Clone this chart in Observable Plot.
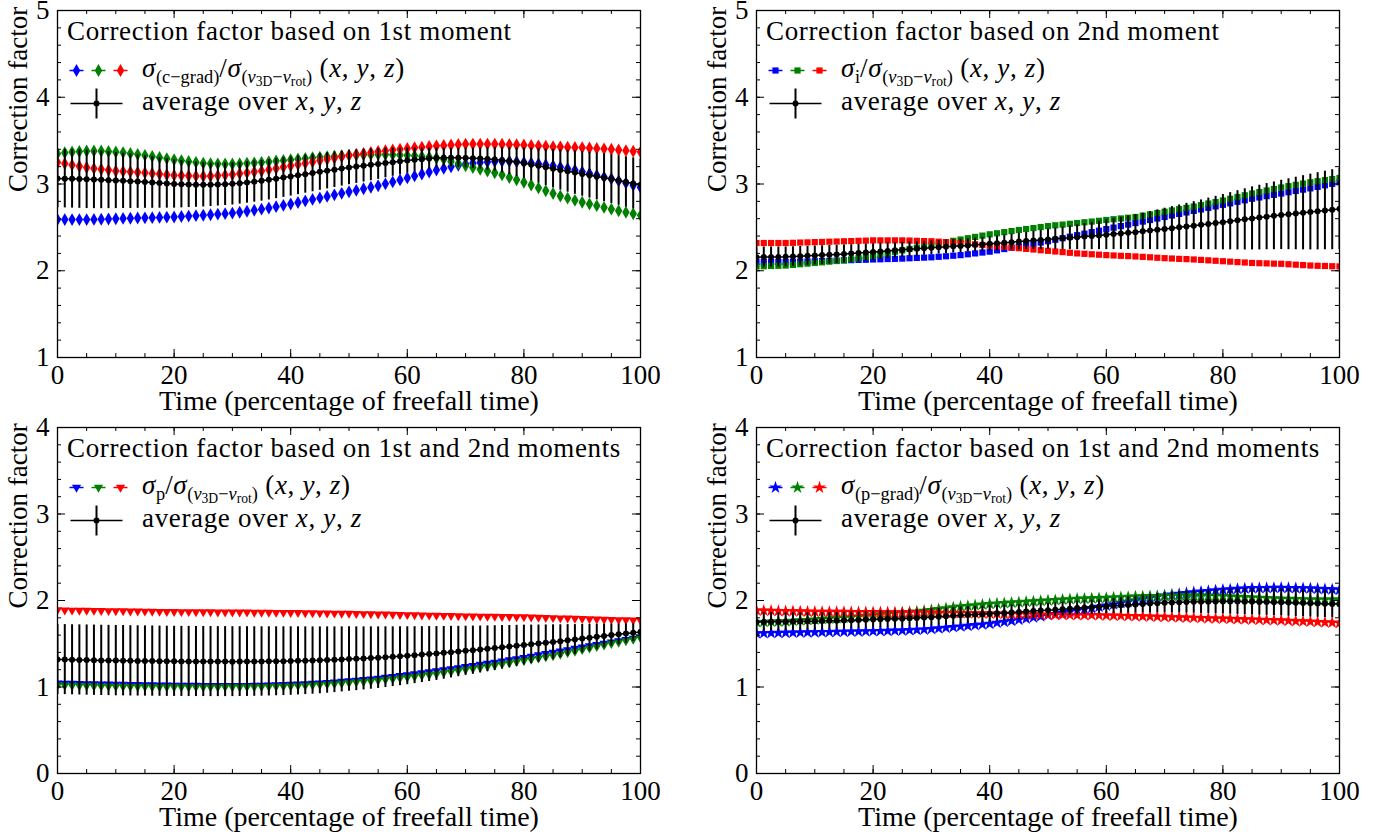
<!DOCTYPE html>
<html><head><meta charset="utf-8">
<script src="https://cdn.jsdelivr.net/npm/d3@7"></script>
<script src="https://cdn.jsdelivr.net/npm/@observablehq/plot@0.6"></script>
<style>
body{margin:0;background:#fff;}
#root{position:relative;width:1384px;height:840px;overflow:hidden;background:#fff;font-family:'Liberation Serif',serif;}
.panel{position:absolute;}
.panel svg{position:absolute;left:0;top:0;}
.ov{position:absolute;z-index:2;}
.leg{position:absolute;white-space:nowrap;font-size:27px;line-height:22px;color:#000;letter-spacing:0.65px;font-family:'Liberation Serif',serif;}
.leg i{font-style:italic;}
.leg sub{font-size:0.68em;vertical-align:-0.32em;line-height:0;letter-spacing:0;}
.leg sub sub{font-size:0.74em;vertical-align:-0.25em;}
</style></head><body><div id="root"></div>
<script>
const time = [0,1.25,2.5,3.75,5,6.25,7.5,8.75,10,11.25,12.5,13.75,15,16.25,17.5,18.75,20,21.25,22.5,23.75,25,26.25,27.5,28.75,30,31.25,32.5,33.75,35,36.25,37.5,38.75,40,41.25,42.5,43.75,45,46.25,47.5,48.75,50,51.25,52.5,53.75,55,56.25,57.5,58.75,60,61.25,62.5,63.75,65,66.25,67.5,68.75,70,71.25,72.5,73.75,75,76.25,77.5,78.75,80,81.25,82.5,83.75,85,86.25,87.5,88.75,90,91.25,92.5,93.75,95,96.25,97.5,98.75,100];

// Panel 1: sigma_(c-grad) / sigma_(v3D - vrot)
const cGradX = [2.590,2.590,2.590,2.590,2.590,2.592,2.594,2.597,2.600,2.603,2.605,2.608,2.610,2.612,2.615,2.618,2.620,2.625,2.630,2.635,2.640,2.646,2.652,2.658,2.665,2.675,2.686,2.698,2.710,2.724,2.739,2.754,2.770,2.787,2.805,2.822,2.840,2.857,2.875,2.892,2.910,2.927,2.945,2.962,2.980,3.002,3.024,3.047,3.070,3.093,3.115,3.138,3.160,3.180,3.198,3.215,3.230,3.240,3.248,3.255,3.260,3.262,3.262,3.257,3.250,3.242,3.232,3.222,3.210,3.195,3.178,3.160,3.140,3.120,3.100,3.080,3.060,3.036,3.011,2.986,2.960];
const cGradY = [3.350,3.360,3.370,3.375,3.380,3.380,3.380,3.375,3.370,3.362,3.353,3.342,3.330,3.318,3.305,3.293,3.280,3.270,3.260,3.250,3.240,3.235,3.232,3.230,3.230,3.234,3.239,3.244,3.250,3.257,3.265,3.272,3.280,3.288,3.295,3.303,3.310,3.315,3.320,3.325,3.330,3.333,3.336,3.338,3.340,3.340,3.338,3.335,3.330,3.325,3.318,3.310,3.300,3.285,3.260,3.235,3.210,3.190,3.170,3.150,3.130,3.105,3.075,3.048,3.020,2.988,2.955,2.922,2.890,2.862,2.837,2.812,2.790,2.770,2.750,2.730,2.710,2.692,2.674,2.657,2.640];
const cGradZ = [3.250,3.235,3.220,3.205,3.190,3.180,3.170,3.160,3.150,3.145,3.140,3.135,3.130,3.122,3.115,3.107,3.100,3.097,3.094,3.092,3.090,3.092,3.097,3.103,3.110,3.120,3.130,3.140,3.150,3.165,3.180,3.195,3.210,3.225,3.240,3.255,3.270,3.285,3.300,3.315,3.330,3.342,3.353,3.364,3.375,3.384,3.393,3.401,3.410,3.418,3.425,3.433,3.440,3.445,3.450,3.455,3.460,3.460,3.460,3.460,3.460,3.458,3.455,3.452,3.450,3.445,3.440,3.435,3.430,3.428,3.425,3.422,3.420,3.415,3.410,3.405,3.400,3.392,3.385,3.377,3.370];

// Panel 2: sigma_i / sigma_(v3D - vrot)
const sigIX = [2.100,2.100,2.100,2.100,2.100,2.102,2.105,2.107,2.110,2.112,2.115,2.117,2.120,2.122,2.125,2.127,2.130,2.132,2.135,2.137,2.140,2.144,2.148,2.151,2.155,2.161,2.167,2.173,2.180,2.190,2.200,2.210,2.220,2.235,2.250,2.265,2.280,2.295,2.310,2.325,2.340,2.357,2.375,2.392,2.410,2.427,2.445,2.462,2.480,2.497,2.515,2.532,2.550,2.567,2.585,2.602,2.620,2.637,2.655,2.672,2.690,2.707,2.725,2.742,2.760,2.777,2.795,2.812,2.830,2.845,2.860,2.875,2.890,2.905,2.920,2.935,2.950,2.967,2.985,3.002,3.020];
const sigIY = [2.050,2.052,2.055,2.057,2.060,2.067,2.075,2.082,2.090,2.097,2.105,2.112,2.120,2.132,2.145,2.157,2.170,2.186,2.202,2.219,2.235,2.251,2.267,2.284,2.300,2.315,2.330,2.345,2.360,2.375,2.390,2.405,2.420,2.432,2.445,2.457,2.470,2.481,2.492,2.504,2.515,2.524,2.532,2.541,2.550,2.559,2.567,2.576,2.585,2.594,2.603,2.611,2.620,2.635,2.650,2.665,2.680,2.695,2.710,2.725,2.740,2.757,2.775,2.792,2.810,2.830,2.850,2.870,2.890,2.907,2.925,2.942,2.960,2.975,2.990,3.005,3.020,3.032,3.045,3.057,3.070];
const sigIZ = [2.320,2.320,2.320,2.320,2.320,2.322,2.325,2.327,2.330,2.332,2.335,2.337,2.340,2.342,2.345,2.347,2.350,2.350,2.350,2.350,2.350,2.348,2.345,2.342,2.340,2.335,2.330,2.325,2.320,2.312,2.305,2.297,2.290,2.282,2.275,2.267,2.260,2.252,2.245,2.237,2.230,2.222,2.215,2.207,2.200,2.195,2.190,2.185,2.180,2.176,2.172,2.169,2.165,2.160,2.155,2.150,2.145,2.141,2.137,2.134,2.130,2.125,2.120,2.115,2.110,2.105,2.100,2.095,2.090,2.087,2.085,2.082,2.080,2.075,2.070,2.065,2.060,2.057,2.055,2.052,2.050];

// Panel 3: sigma_p / sigma_(v3D - vrot)
const sigPX = [1.045,1.043,1.041,1.039,1.037,1.035,1.033,1.032,1.030,1.029,1.027,1.026,1.025,1.024,1.022,1.021,1.020,1.019,1.018,1.018,1.017,1.016,1.016,1.015,1.015,1.016,1.017,1.019,1.020,1.022,1.025,1.027,1.030,1.034,1.037,1.041,1.045,1.051,1.057,1.064,1.070,1.077,1.085,1.092,1.100,1.110,1.120,1.130,1.140,1.151,1.162,1.174,1.185,1.197,1.210,1.222,1.235,1.247,1.260,1.272,1.285,1.299,1.312,1.326,1.340,1.355,1.370,1.385,1.400,1.415,1.430,1.445,1.460,1.475,1.490,1.505,1.520,1.534,1.547,1.561,1.575];
const sigPY = [1.020,1.018,1.016,1.014,1.012,1.010,1.008,1.007,1.005,1.004,1.003,1.003,1.002,1.001,1.001,1.000,1.000,1.000,0.999,0.999,0.999,0.999,0.999,1.000,1.000,1.001,1.001,1.002,1.003,1.005,1.006,1.008,1.010,1.014,1.017,1.021,1.025,1.031,1.036,1.042,1.048,1.055,1.061,1.068,1.075,1.084,1.092,1.101,1.110,1.120,1.130,1.140,1.150,1.162,1.175,1.187,1.200,1.212,1.225,1.237,1.250,1.264,1.277,1.291,1.305,1.319,1.332,1.346,1.360,1.377,1.395,1.412,1.430,1.447,1.465,1.482,1.500,1.516,1.532,1.549,1.565];
const sigPZ = [1.890,1.889,1.887,1.886,1.885,1.884,1.882,1.881,1.880,1.879,1.877,1.876,1.875,1.874,1.872,1.871,1.870,1.869,1.869,1.868,1.867,1.867,1.866,1.866,1.865,1.864,1.864,1.863,1.862,1.862,1.861,1.861,1.860,1.859,1.857,1.856,1.855,1.854,1.852,1.851,1.850,1.848,1.846,1.844,1.842,1.841,1.839,1.837,1.835,1.833,1.831,1.829,1.827,1.826,1.824,1.822,1.820,1.819,1.817,1.816,1.815,1.814,1.812,1.811,1.810,1.807,1.805,1.802,1.800,1.797,1.795,1.792,1.790,1.787,1.785,1.782,1.780,1.777,1.775,1.772,1.770];

// Panel 4: sigma_(p-grad) / sigma_(v3D - vrot)
const pGradX = [1.620,1.622,1.624,1.625,1.627,1.629,1.630,1.632,1.633,1.635,1.636,1.638,1.639,1.641,1.642,1.644,1.645,1.647,1.649,1.651,1.653,1.657,1.661,1.665,1.670,1.677,1.685,1.692,1.700,1.707,1.715,1.722,1.730,1.742,1.753,1.765,1.777,1.790,1.803,1.817,1.830,1.844,1.857,1.871,1.885,1.899,1.912,1.926,1.940,1.955,1.970,1.985,2.000,2.015,2.029,2.044,2.058,2.068,2.077,2.087,2.096,2.103,2.110,2.117,2.124,2.129,2.134,2.138,2.143,2.144,2.145,2.146,2.147,2.145,2.143,2.142,2.140,2.136,2.132,2.128,2.124];
const pGradY = [1.750,1.752,1.755,1.757,1.760,1.765,1.770,1.775,1.780,1.785,1.790,1.795,1.800,1.807,1.815,1.822,1.830,1.836,1.842,1.849,1.855,1.864,1.872,1.881,1.890,1.900,1.910,1.920,1.930,1.937,1.945,1.952,1.960,1.965,1.970,1.975,1.980,1.985,1.990,1.995,2.000,2.005,2.010,2.015,2.020,2.022,2.025,2.027,2.030,2.034,2.038,2.042,2.046,2.048,2.050,2.052,2.054,2.055,2.056,2.057,2.058,2.056,2.054,2.052,2.050,2.046,2.042,2.039,2.035,2.031,2.027,2.024,2.020,2.018,2.016,2.014,2.012,2.011,2.011,2.010,2.010];
const pGradZ = [1.885,1.883,1.881,1.879,1.877,1.876,1.874,1.872,1.870,1.869,1.869,1.868,1.868,1.867,1.866,1.866,1.865,1.864,1.864,1.863,1.863,1.862,1.861,1.861,1.860,1.859,1.857,1.856,1.855,1.854,1.852,1.851,1.850,1.848,1.846,1.844,1.842,1.841,1.839,1.837,1.835,1.834,1.833,1.832,1.831,1.831,1.830,1.829,1.827,1.825,1.823,1.821,1.819,1.817,1.815,1.812,1.810,1.807,1.805,1.802,1.800,1.797,1.795,1.792,1.790,1.787,1.785,1.782,1.780,1.777,1.775,1.772,1.770,1.766,1.762,1.759,1.755,1.751,1.747,1.744,1.740];

const xTicks = [0, 20, 40, 60, 80, 100];
const yTicksTop = [1, 2, 3, 4, 5];
const yTicksBottom = [0, 1, 2, 3, 4];
const colors = ["#0000ff", "#008000", "#ff0000"];
const xLabel = "Time (percentage of freefall time)";
const yLabel = "Correction factor";
const titles = [
  "Correction factor based on 1st moment",
  "Correction factor based on 2nd moment",
  "Correction factor based on 1st and 2nd moments",
  "Correction factor based on 1st and 2nd moments"
];
const denomHTML = '<i>σ</i><sub>(<i>v</i><sub>3D</sub>−<i>v</i><sub>rot</sub>)</sub>';
const xyzHTML = '(<i>x</i>, <i>y</i>, <i>z</i>)';
const ratioHTML = [
  '<i>σ</i><sub>(c−grad)</sub>/' + denomHTML + ' ' + xyzHTML,
  '<i>σ</i><sub>i</sub>/' + denomHTML + ' ' + xyzHTML,
  '<i>σ</i><sub>p</sub>/' + denomHTML + ' ' + xyzHTML,
  '<i>σ</i><sub>(p−grad)</sub>/' + denomHTML + ' ' + xyzHTML
];
const avgHTML = 'average over <i>x</i>, <i>y</i>, <i>z</i>';
const FONT = "'Liberation Serif', serif";

const hline = {draw(ctx, size) { const l = Math.sqrt(size / Math.PI); ctx.moveTo(-l, 0); ctx.lineTo(l, 0); }};
const vline = {draw(ctx, size) { const l = Math.sqrt(size / Math.PI); ctx.moveTo(0, -l); ctx.lineTo(0, l); }};

function makePanel(cfg) {
  const {left, top, width, mr, height, mb, yDomain, yTicks, series, symbol, r, rotate, title, ratio} = cfg;
  const mt = 10, ml = 57;
  const avg = time.map((t, i) => {
    const v = series.map(s => s[i]);
    const m = d3.mean(v);
    const sd = Math.sqrt(d3.mean(v, d => (d - m) ** 2));
    return {t, m, lo: m - sd, hi: m + sd};
  });
  const xMinor = d3.range(0, 101, 5);
  const yMinor = d3.range(Math.round((yDomain[1] - yDomain[0]) / 0.2) + 1).map(k => +(yDomain[0] + k * 0.2).toFixed(1));
  const [y0, y1] = yDomain;
  const marks = [];
  series.forEach((s, j) => {
    marks.push(Plot.dot(time.map((t, i) => ({t, v: s[i]})), {x: "t", y: "v", symbol, r, fill: colors[j], stroke: "none", rotate, clip: true}));
  });
  marks.push(
    Plot.ruleX(avg, {x: "t", y1: "lo", y2: "hi", stroke: "black", strokeWidth: 2, clip: true}),
    Plot.line(avg, {x: "t", y: "m", stroke: "black", strokeWidth: 1.5, clip: true}),
    Plot.dot(avg, {x: "t", y: "m", r: 3, fill: "black", stroke: "none", clip: true}),
    Plot.ruleX(xMinor, {x: d => d, y1: y0, y2: y0, insetTop: -4, stroke: "black"}),
    Plot.ruleX(xMinor, {x: d => d, y1: y1, y2: y1, insetBottom: -4, stroke: "black"}),
    Plot.ruleX(xTicks, {x: d => d, y1: y0, y2: y0, insetTop: -8, stroke: "black"}),
    Plot.ruleX(xTicks, {x: d => d, y1: y1, y2: y1, insetBottom: -8, stroke: "black"}),
    Plot.ruleY(yMinor, {y: d => d, x1: 0, x2: 0, insetRight: -4, stroke: "black"}),
    Plot.ruleY(yMinor, {y: d => d, x1: 100, x2: 100, insetLeft: -4, stroke: "black"}),
    Plot.ruleY(yTicks, {y: d => d, x1: 0, x2: 0, insetRight: -8, stroke: "black"}),
    Plot.ruleY(yTicks, {y: d => d, x1: 100, x2: 100, insetLeft: -8, stroke: "black"}),
    Plot.frame({stroke: "black", strokeWidth: 1.3}),
    Plot.axisX({ticks: xTicks, tickSize: 0, tickPadding: 7, label: null, tickFormat: d => String(d), fontSize: 27}),
    Plot.axisY({ticks: yTicks, tickSize: 0, tickPadding: 8, label: null, tickFormat: d => String(d), fontSize: 27}),
    Plot.text([xLabel], {text: d => d, frameAnchor: "bottom", dy: 52, fontSize: 28}),
    Plot.text([yLabel], {text: d => d, frameAnchor: "left", dx: -39, dy: 8, rotate: -90, fontSize: 27}),
    ...colors.map((c, j) => Plot.dot([0], {x: null, y: null, frameAnchor: "top-left", dx: 19 + 22 * j, dy: 60, symbol: hline, r: 7, stroke: c, strokeWidth: 1.5, fill: "none"})),
    ...colors.map((c, j) => Plot.dot([0], {x: null, y: null, frameAnchor: "top-left", dx: 19 + 22 * j, dy: 60, symbol, r, fill: c, stroke: "none", rotate})),
    Plot.dot([0], {x: null, y: null, frameAnchor: "top-left", dx: 39, dy: 93, symbol: hline, r: 26, stroke: "black", strokeWidth: 1.5, fill: "none"}),
    Plot.dot([0], {x: null, y: null, frameAnchor: "top-left", dx: 39, dy: 93, symbol: vline, r: 15, stroke: "black", strokeWidth: 2, fill: "none"}),
    Plot.dot([0], {x: null, y: null, frameAnchor: "top-left", dx: 39, dy: 93, r: 3, fill: "black", stroke: "none"})
  );
  const svg = Plot.plot({
    width, height, marginLeft: ml, marginRight: mr, marginTop: mt, marginBottom: mb,
    x: {domain: [0, 100]},
    y: {domain: yDomain},
    style: {background: "transparent", overflow: "visible", color: "black", fontSize: "27px", fontFamily: FONT},
    marks
  });
  svg.setAttribute("font-family", "Liberation Serif");
  const div = document.createElement("div");
  div.className = "panel";
  div.style.left = left + "px"; div.style.top = top + "px";
  div.style.width = width + "px"; div.style.height = height + "px";
  div.appendChild(svg);
  const ov = document.createElement("div");
  ov.className = "ov";
  ov.style.left = ml + "px"; ov.style.top = mt + "px";
  ov.innerHTML =
    `<div class="leg" style="left:10px;top:10px">${title}</div>` +
    `<div class="leg" style="left:85px;top:47px">${ratio}</div>` +
    `<div class="leg" style="left:85px;top:80px">${avgHTML}</div>`;
  div.appendChild(ov);
  document.getElementById("root").appendChild(div);
}

makePanel({left: 0, top: 0, width: 692, mr: 52, height: 422, mb: 65, yDomain: [1, 5], yTicks: yTicksTop,
  series: [cGradX, cGradY, cGradZ], symbol: "diamond", r: 3.9, rotate: 0, title: titles[0], ratio: ratioHTML[0]});
makePanel({left: 699, top: 0, width: 685, mr: 45, height: 422, mb: 65, yDomain: [1, 5], yTicks: yTicksTop,
  series: [sigIX, sigIY, sigIZ], symbol: "square", r: 3.5, rotate: 0, title: titles[1], ratio: ratioHTML[1]});
makePanel({left: 0, top: 417, width: 692, mr: 52, height: 423, mb: 67, yDomain: [0, 4], yTicks: yTicksBottom,
  series: [sigPX, sigPY, sigPZ], symbol: "triangle", r: 3.4, rotate: 180, title: titles[2], ratio: ratioHTML[2]});
makePanel({left: 699, top: 417, width: 685, mr: 45, height: 423, mb: 67, yDomain: [0, 4], yTicks: yTicksBottom,
  series: [pGradX, pGradY, pGradZ], symbol: "star", r: 4, rotate: 0, title: titles[3], ratio: ratioHTML[3]});
</script></body></html>
